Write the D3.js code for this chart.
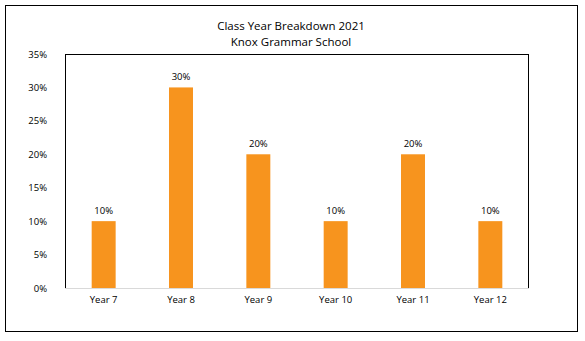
<!DOCTYPE html>
<html><head><meta charset="utf-8">
<script src="https://cdn.jsdelivr.net/npm/d3@7"></script>
<style>
body{margin:0;background:#fff;}
text{font-family:"Open Sans","Liberation Sans",sans-serif;fill:#000;}
</style></head>
<body>
<svg id="c" width="585" height="341"></svg>
<script>
const categories = ["Year 7","Year 8","Year 9","Year 10","Year 11","Year 12"];
const values = [0.10,0.30,0.20,0.10,0.20,0.10];
const yTicks = [0,0.05,0.10,0.15,0.20,0.25,0.30,0.35];
const titleLines = ["Class Year Breakdown 2021","Knox Grammar School"];

const svg = d3.select("#c");
svg.append("rect").attr("x",5.5).attr("y",5.5).attr("width",572).attr("height",326)
  .attr("fill","#fff").attr("stroke","#000").attr("stroke-width",1);

const m = {l:65, r:529, t:54, b:288};
const x = d3.scaleBand().domain(categories).range([m.l,m.r]).paddingInner(0.69).paddingOuter(0.345);
const y = d3.scaleLinear().domain([0,0.35]).range([m.b,m.t]);

svg.append("rect").attr("x",m.l+0.5).attr("y",m.t+0.5).attr("width",m.r-m.l-1).attr("height",m.b-m.t)
  .attr("fill","none").attr("stroke","#000").attr("stroke-width",1);

svg.selectAll(".bar").data(values).join("rect")
  .attr("x",(d,i)=>x(categories[i])).attr("y",d=>y(d))
  .attr("width",x.bandwidth()).attr("height",d=>y(0)-y(d)).attr("fill","#f7941e");

svg.append("line").attr("x1",m.l).attr("x2",m.r).attr("y1",m.b+0.5).attr("y2",m.b+0.5)
  .attr("stroke","#d9d9d9").attr("stroke-width",1);

const fs = "9.5px";
const yAxis = d3.axisLeft(y).tickValues(yTicks).tickFormat(d3.format(".0%")).tickSize(0).tickPadding(18);
const ya = svg.append("g").attr("transform",`translate(${m.l},0)`).call(yAxis);
ya.select(".domain").remove();
ya.selectAll("text").style("font-family","'Open Sans','Liberation Sans',sans-serif").style("font-size",fs).attr("fill","#000");

const xAxis = d3.axisBottom(x).tickSize(0).tickPadding(8);
const xa = svg.append("g").attr("transform",`translate(0,${m.b})`).call(xAxis);
xa.select(".domain").remove();
xa.selectAll("text").style("font-family","'Open Sans','Liberation Sans',sans-serif").style("font-size",fs).attr("fill","#000");

svg.selectAll(".lbl").data(values).join("text")
  .attr("x",(d,i)=>x(categories[i])+x.bandwidth()/2).attr("y",d=>y(d)-7)
  .attr("text-anchor","middle").style("font-size",fs).text(d=>d3.format(".0%")(d));

svg.selectAll(".title").data(titleLines).join("text")
  .attr("x",291).attr("y",(d,i)=>30+i*16).attr("text-anchor","middle")
  .style("font-size","11.5px").text(d=>d);
</script>
</body></html>
